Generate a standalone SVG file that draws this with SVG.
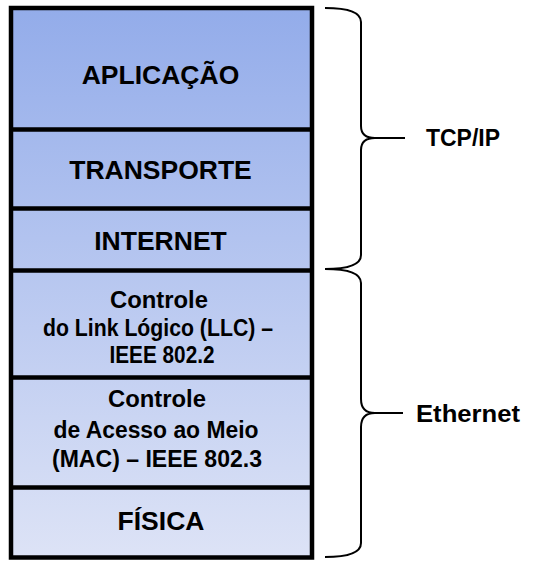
<svg xmlns="http://www.w3.org/2000/svg" width="533" height="567" viewBox="0 0 533 567">
<style>
.cap{font-family:"Liberation Sans",Arial,sans-serif;font-weight:bold;font-size:26.5px;fill:#000;text-anchor:middle}
.cal{font-family:"Liberation Sans",Arial,sans-serif;font-weight:bold;font-size:23px;fill:#000;text-anchor:middle}
.lbl{font-family:"Liberation Sans",Arial,sans-serif;font-weight:bold;font-size:24px;fill:#000}
.sep{stroke:#000;stroke-width:4.5}
.brace{fill:none;stroke:#000;stroke-width:2}
</style>
<defs>
<linearGradient id="bg" x1="0" y1="0" x2="0" y2="1">
<stop offset="0" stop-color="#93ACEA"/>
<stop offset="1" stop-color="#DDE3F6"/>
</linearGradient>
</defs>
<rect x="0" y="0" width="533" height="567" fill="#fff"/>
<g id="stack">
<rect x="11" y="8" width="301" height="549.5" fill="url(#bg)" stroke="#000" stroke-width="4.5"/>
</g>
<g id="aplicacao">
<text class="cap" x="160.5" y="84">APLICAÇÃO</text>
</g>
<g id="transporte">
<line class="sep" x1="11" y1="129.5" x2="312" y2="129.5"/>
<text class="cap" x="160.5" y="179">TRANSPORTE</text>
</g>
<g id="internet">
<line class="sep" x1="11" y1="208.5" x2="312" y2="208.5"/>
<text class="cap" x="160.5" y="250">INTERNET</text>
</g>
<g id="llc">
<line class="sep" x1="11" y1="270.5" x2="312" y2="270.5"/>
<text class="cal" x="159" y="308" textLength="98" lengthAdjust="spacingAndGlyphs">Controle</text>
<text class="cal" x="158" y="335.5" textLength="230" lengthAdjust="spacingAndGlyphs">do Link Lógico (LLC) –</text>
<text class="cal" x="162" y="363" textLength="105" lengthAdjust="spacingAndGlyphs">IEEE 802.2</text>
</g>
<g id="mac">
<line class="sep" x1="11" y1="377.5" x2="312" y2="377.5"/>
<text class="cal" x="157" y="407" textLength="98" lengthAdjust="spacingAndGlyphs">Controle</text>
<text class="cal" x="156" y="437.5" textLength="205" lengthAdjust="spacingAndGlyphs">de Acesso ao Meio</text>
<text class="cal" x="157" y="467" textLength="210" lengthAdjust="spacingAndGlyphs">(MAC) – IEEE 802.3</text>
</g>
<g id="fisica">
<line class="sep" x1="11" y1="487.5" x2="312" y2="487.5"/>
<text class="cap" x="161" y="530">FÍSICA</text>
</g>
<g id="tcpip">
<text class="lbl" x="426" y="146" textLength="74" lengthAdjust="spacingAndGlyphs">TCP/IP</text>
</g>
<g id="ethernet">
<text class="lbl" x="416" y="422" textLength="104" lengthAdjust="spacingAndGlyphs">Ethernet</text>
</g>
<g id="connectors">
<path class="brace" d="M325,8 Q361,8 361,22 L361,126 Q361,138 375,138 Q361,138 361,150 L361,255 Q361,269 325,269"/>
<path class="brace" d="M373,138 L405,138"/>
<path class="brace" d="M325,269 Q361,269 361,283 L361,399 Q361,413 375,413 Q361,413 361,427 L361,543 Q361,557 325,557"/>
<path class="brace" d="M373,413 L403,413"/>
</g>
</svg>
